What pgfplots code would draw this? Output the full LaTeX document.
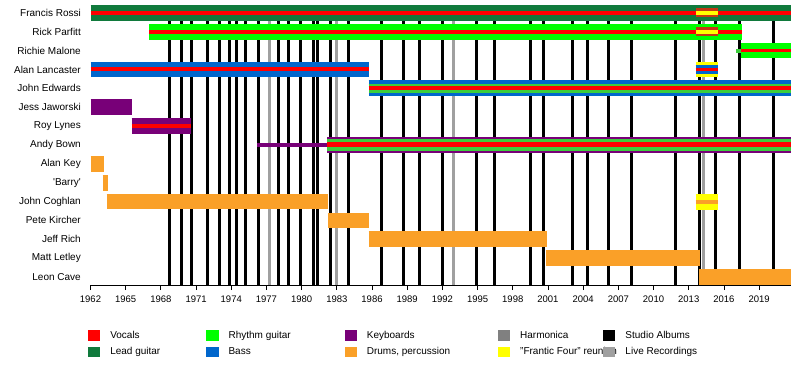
\documentclass[border=0pt]{standalone}
\usepackage{fontspec}
\setmainfont{Liberation Sans}
\usepackage{pgfplots}
\pgfplotsset{compat=1.18}
\definecolor{voc}{RGB}{255,0,0}
\definecolor{lead}{RGB}{16,122,60}
\definecolor{rhy}{RGB}{0,255,0}
\definecolor{rhyd}{RGB}{60,205,60}
\definecolor{keys}{RGB}{120,0,120}
\definecolor{bass}{RGB}{0,102,204}
\definecolor{drums}{RGB}{250,160,40}
\definecolor{harm}{RGB}{128,128,128}
\definecolor{ff}{RGB}{255,255,0}
\definecolor{ffring}{RGB}{195,55,20}
\definecolor{live}{RGB}{160,160,160}
\newcommand{\tlbar}[5]{\addplot[draw=#1, line width=#2bp, forget plot] coordinates {(#3,#5) (#4,#5)};}
\begin{document}
\begin{tikzpicture}
\useasboundingbox (0,0) rectangle (800bp,365bp);
\begin{axis}[
  at={(90.5bp,80bp)}, anchor=south west,
  scale only axis, width=700.5bp, height=280.1bp,
  xmin=1962, xmax=2021.72, ymin=0.576, ymax=15.42,
  axis x line*=bottom, axis y line*=left,
  x axis line style={-, line width=0.9bp},
  y axis line style={draw=none},
  ytick={1,...,15},
  yticklabels={Leon Cave, Matt Letley, Jeff Rich, Pete Kircher, John Coghlan, \textquotesingle Barry\textquotesingle, Alan Key, Andy Bown, Roy Lynes, Jess Jaworski, John Edwards, Alan Lancaster, Richie Malone, Rick Parfitt, Francis Rossi},
  ytick style={draw=none},
  yticklabel style={font=\fontsize{10bp}{12bp}\selectfont, anchor=east, inner sep=0pt, xshift=-4.5bp},
  xtick={1962,1965,...,2019},
  minor x tick num=2,
  tick align=outside,
  major tick length=5bp, minor tick length=3bp,
  xtick style={black, line width=0.8bp},
  xticklabel style={font=\fontsize{9.5bp}{11bp}\selectfont, /pgf/number format/1000 sep={}, inner sep=0pt, anchor=north, yshift=-5.5bp},
  /pgf/number format/assume math mode=true,
  legend columns=5,
  legend cell align=left,
  legend style={at={(axis description cs:-0.0036,-0.16)}, anchor=north west, draw=none, fill=none, inner sep=0pt, outer sep=0pt,
    font=\fontsize{10bp}{12bp}\selectfont,
    nodes={inner sep=0pt},
    row sep=6bp,
    /tikz/every odd column/.style={column sep=10bp},
    /tikz/every even column/.style={column sep=0pt}},
  legend image code/.code={\path[draw=none] (0bp,-5.4bp) rectangle (12.3bp,5.4bp);},
]
% studio albums
\addplot[ycomb, black, line width=3bp, mark=none, forget plot] coordinates {
(1968.72,14.8) (1969.78,14.8) (1970.63,14.8) (1971.96,14.8) (1972.98,14.8) (1973.83,14.8) (1974.46,14.8) (1975.23,14.8) (1976.31,14.8)
(1978.04,14.8) (1978.90,14.8) (1979.92,14.8) (1980.99,14.8) (1981.34,14.8) (1982.48,14.8) (1983.98,14.8) (1986.79,14.8) (1988.67,14.8)
(1990.03,14.8) (1991.99,14.8) (1994.92,14.8) (1996.42,14.8) (1999.47,14.8) (2000.60,14.8) (2003.07,14.8) (2004.35,14.8) (2006.14,14.8)
(2008.14,14.8) (2011.86,14.8) (2013.88,14.8) (2015.27,14.8) (2017.31,14.8) (2020.21,14.8)};
% live recordings
\addplot[ycomb, live, line width=3bp, mark=none, forget plot] coordinates {
(1977.30,14.8) (1982.99,14.8) (1992.93,14.8) (2014.24,14.8)};
% Francis Rossi
\tlbar{lead}{15.7}{1962}{2021.72}{15}
\tlbar{voc}{4}{1962}{2021.72}{15}
\tlbar{ffring}{9}{2013.59}{2015.47}{15}
\tlbar{ff}{4}{2013.59}{2015.47}{15}
% Rick Parfitt
\tlbar{rhy}{15.7}{1966.99}{2017.52}{14}
\tlbar{voc}{4}{1966.99}{2017.52}{14}
\tlbar{ffring}{9}{2013.59}{2015.47}{14}
\tlbar{ff}{4}{2013.59}{2015.47}{14}
% Richie Malone
\tlbar{rhyd}{4}{2017.05}{2017.46}{13}
\tlbar{rhy}{15.7}{2017.46}{2021.72}{13}
\tlbar{voc}{3.8}{2017.46}{2021.72}{13}
% Alan Lancaster
\tlbar{bass}{15.7}{1962}{1985.72}{12}
\tlbar{voc}{4}{1962}{1985.72}{12}
\tlbar{ff}{15.7}{2013.59}{2015.47}{12}
\tlbar{bass}{9}{2013.59}{2015.47}{12}
\tlbar{voc}{3.5}{2013.59}{2015.47}{12}
% John Edwards
\tlbar{bass}{15.7}{1985.72}{2021.72}{11}
\tlbar{rhyd}{9}{1985.72}{2021.72}{11}
\tlbar{voc}{4}{1985.72}{2021.72}{11}
% Jess Jaworski
\tlbar{keys}{15.7}{1962}{1965.51}{10}
% Roy Lynes
\tlbar{keys}{15.7}{1965.51}{1970.54}{9}
\tlbar{voc}{4}{1965.51}{1970.54}{9}
% Andy Bown
\tlbar{keys}{4}{1976.22}{1982.19}{8}
\tlbar{keys}{15.7}{1982.19}{2021.72}{8}
\tlbar{rhyd}{12.3}{1982.19}{2021.72}{8}
\tlbar{voc}{5}{1982.19}{2021.72}{8}
% Alan Key
\tlbar{drums}{15.7}{1962}{1963.15}{7}
% Barry
\tlbar{drums}{15.7}{1963.04}{1963.47}{6}
% John Coghlan
\tlbar{drums}{15.7}{1963.38}{1982.25}{5}
\tlbar{ff}{16}{2013.59}{2015.47}{5}
\tlbar{drums}{4}{2013.59}{2015.47}{5}
% Pete Kircher
\tlbar{drums}{15.7}{1982.25}{1985.72}{4}
% Jeff Rich
\tlbar{drums}{15.7}{1985.72}{2000.89}{3}
% Matt Letley
\tlbar{drums}{15.7}{2000.81}{2014.0}{2}
% Leon Cave
\tlbar{drums}{15.7}{2013.91}{2021.72}{1}
% legend
\addlegendimage{fill=voc}
\addlegendentry{\makebox[96bp][l]{Vocals}}
\addlegendimage{fill=rhy}
\addlegendentry{\makebox[116bp][l]{Rhythm guitar}}
\addlegendimage{fill=keys}
\addlegendentry{\makebox[131bp][l]{Keyboards}}
\addlegendimage{fill=harm}
\addlegendentry{\makebox[83bp][l]{Harmonica}}
\addlegendimage{fill=black}
\addlegendentry{Studio Albums}
\addlegendimage{fill=lead}
\addlegendentry{\makebox[96bp][l]{Lead guitar}}
\addlegendimage{fill=bass}
\addlegendentry{\makebox[116bp][l]{Bass}}
\addlegendimage{fill=drums}
\addlegendentry{\makebox[131bp][l]{Drums, percussion}}
\addlegendimage{fill=ff}
\addlegendentry{\makebox[83bp][l]{"Frantic Four" reunion}}
\addlegendimage{fill=live}
\addlegendentry{Live Recordings}
\end{axis}
\end{tikzpicture}
\end{document}
